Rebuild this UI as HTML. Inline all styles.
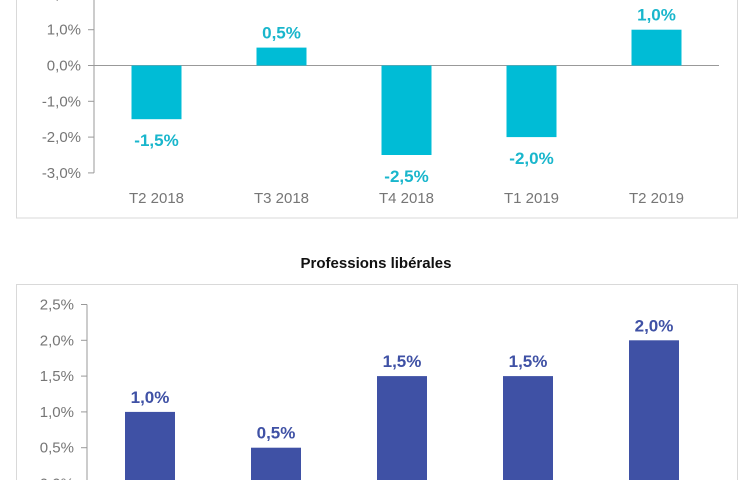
<!DOCTYPE html>
<html><head><meta charset="utf-8"><style>
body{margin:0;background:#fff;width:749px;height:480px;overflow:hidden;font-family:"Liberation Sans",sans-serif}
svg text{font-family:"Liberation Sans",sans-serif}
</style></head><body>
<svg width="749" height="480">
<rect x="16.5" y="-5" width="721" height="223" fill="none" stroke="#d9d9d9"/>
<rect x="16.5" y="284.5" width="721" height="210" fill="none" stroke="#d9d9d9"/>
<text x="376" y="268" text-anchor="middle" font-size="15" font-weight="bold" fill="#111">Professions libérales</text>
<g id="top"></g>
<g id="bot"></g>
</svg>
<script>
const categories=["T2 2018","T3 2018","T4 2018","T1 2019","T2 2019"];
const topValues=[-1.5,0.5,-2.5,-2.0,1.0];
const topTicks=[2,1,0,-1,-2,-3];
const botValues=[1.0,0.5,1.5,1.5,2.0];
const botTicks=[2.5,2.0,1.5,1.0,0.5,0.0];
const NS="http://www.w3.org/2000/svg";
function mk(p,t,a,txt){const e=document.createElementNS(NS,t);for(const k in a)e.setAttribute(k,a[k]);if(txt!==undefined)e.textContent=txt;p.appendChild(e);return e;}
function fmt(v,d){return v.toFixed(1).replace('.',',')+'%';}
function draw(g,vals,ticks,o){
  const y=v=>o.y0-v*o.k;
  const x=i=>o.x0+o.step*(i+0.5);
  let e=mk(g,'line',{x1:o.x0,x2:o.x0,y1:y(ticks[0]),y2:y(ticks[ticks.length-1]),stroke:'#999'});
  
  ticks.forEach(t=>{
    let l=mk(g,'line',{x1:o.x0-6,x2:o.x0,y1:y(t),y2:y(t),stroke:'#999'});
    
    let tx=mk(g,'text',{x:o.x0-13,y:y(t)+5,'text-anchor':'end','font-size':15,fill:'#767676'},fmt(t));
    
  });
  let z=mk(g,'line',{x1:o.x0,x2:o.x0+o.step*vals.length,y1:y(0),y2:y(0),stroke:'#999'});
  
  vals.forEach((v,i)=>{
    const top=Math.min(y(v),y(0)),h=Math.abs(y(v)-y(0));
    let r=mk(g,'rect',{x:x(i)-25,y:top,width:50,height:h,fill:o.color});
    
    
    const ly=v>=0?y(v)-9:y(v)+27;
    let t=mk(g,'text',{x:x(i),y:ly,'text-anchor':'middle','font-size':17,'font-weight':'bold',fill:o.lcolor},fmt(v));
    
    if(o.cat){let c=mk(g,'text',{x:x(i),y:o.catY,'text-anchor':'middle','font-size':15,fill:'#767676'},categories[i]);
    }
  });
}
draw(document.getElementById('top'),topValues,topTicks,{x0:94,y0:65.5,k:35.8,step:125,color:'#00bcd6',lcolor:'#19b6cc',cat:true,catY:203});
draw(document.getElementById('bot'),botValues,botTicks,{x0:87,y0:483.5,k:71.6,step:126,color:'#3f51a5',lcolor:'#3f51a5',cat:false});
</script>
</body></html>
